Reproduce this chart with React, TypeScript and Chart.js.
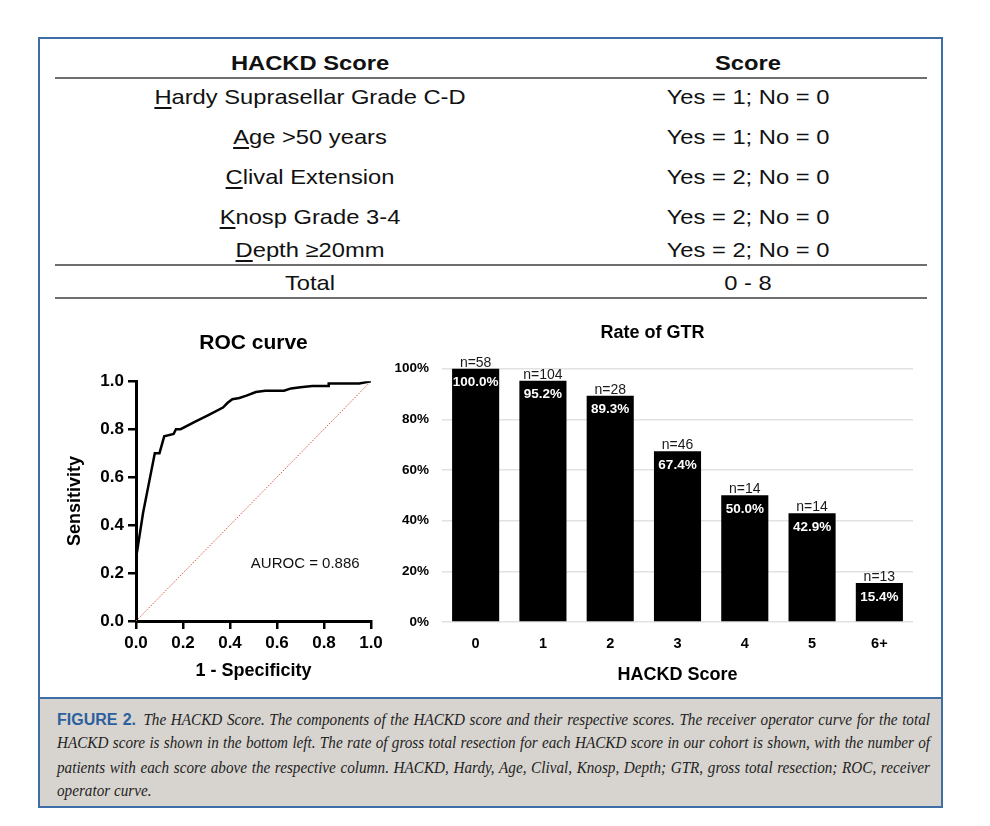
import React, { useEffect, useRef } from 'react';
import { Chart, registerables } from 'chart.js';

Chart.register(...registerables);

const FONT = '"Liberation Sans", Arial, Helvetica, sans-serif';
const SERIF = '"Liberation Serif", "Times New Roman", serif';

// ---- Table data ----
const tableHeaders = ['HACKD Score', 'Score'];
const tableFactors = ['Hardy Suprasellar Grade C-D', 'Age >50 years', 'Clival Extension', 'Knosp Grade 3-4', 'Depth ≥20mm'];
const tableScores = ['Yes = 1; No = 0', 'Yes = 1; No = 0', 'Yes = 2; No = 0', 'Yes = 2; No = 0', 'Yes = 2; No = 0'];
const tableTotal = ['Total', '0 - 8'];

// ---- ROC curve data ----
const rocFpr = [0, 0.03, 0.06, 0.08, 0.10, 0.12, 0.16, 0.17, 0.19, 0.25, 0.31, 0.37, 0.39, 0.41, 0.44, 0.47, 0.51, 0.55, 0.63, 0.66, 0.70, 0.75, 0.82, 0.82, 0.95, 1.0];
const rocTpr = [0.26, 0.45, 0.60, 0.70, 0.70, 0.77, 0.78, 0.80, 0.80, 0.83, 0.86, 0.89, 0.91, 0.925, 0.93, 0.94, 0.955, 0.96, 0.96, 0.97, 0.975, 0.98, 0.98, 0.99, 0.99, 1.0];
const chanceFpr = [0, 1];
const chanceTpr = [0, 1];
const aurocLabel = 'AUROC = 0.886';

// ---- GTR bar data ----
const gtrCategories = ['0', '1', '2', '3', '4', '5', '6+'];
const gtrRates = [100.0, 95.2, 89.3, 67.4, 50.0, 42.9, 15.4];
const gtrCounts = [58, 104, 28, 46, 14, 14, 13];

// ---- Caption ----
const captionLabel = 'FIGURE 2.';
const captionLines = [
  'The HACKD Score. The components of the HACKD score and their respective scores. The receiver operator curve for the total',
  'HACKD score is shown in the bottom left. The rate of gross total resection for each HACKD score in our cohort is shown, with the number of',
  'patients with each score above the respective column. HACKD, Hardy, Age, Clival, Knosp, Depth; GTR, gross total resection; ROC, receiver',
  'operator curve.',
];

const FRAME = '#3f6ea6';

const aurocPlugin = {
  id: 'aurocText',
  afterDatasetsDraw(chart: any) {
    const { ctx, scales } = chart;
    const x = scales.x.getPixelForValue(0.72);
    const y = scales.y.getPixelForValue(0.24);
    ctx.save();
    ctx.font = `15px ${FONT}`;
    ctx.fillStyle = '#111';
    ctx.textAlign = 'center';
    ctx.textBaseline = 'middle';
    ctx.fillText(aurocLabel, x, y);
    ctx.restore();
  },
};

const barLabelPlugin = {
  id: 'barLabels',
  afterDatasetsDraw(chart: any) {
    const { ctx } = chart;
    const meta = chart.getDatasetMeta(0);
    ctx.save();
    ctx.textAlign = 'center';
    meta.data.forEach((bar: any, i: number) => {
      const { x, y } = bar.getProps(['x', 'y'], true);
      ctx.fillStyle = '#1a1a1a';
      ctx.font = `14px ${FONT}`;
      ctx.textBaseline = 'alphabetic';
      ctx.fillText(`n=${gtrCounts[i]}`, x, y - 2);
      ctx.fillStyle = '#ffffff';
      ctx.font = `bold 13.5px ${FONT}`;
      ctx.textBaseline = 'middle';
      ctx.fillText(`${gtrRates[i].toFixed(1)}%`, x, y + 14);
    });
    ctx.restore();
  },
};

function RocChart() {
  const ref = useRef<HTMLCanvasElement>(null);
  useEffect(() => {
    if (!ref.current) return;
    const axisGrid = {
      drawOnChartArea: false,
      drawTicks: true,
      tickLength: 8,
      tickWidth: 2.5,
      tickColor: '#000',
      color: '#000',
      lineWidth: 2.5,
    };
    const axisBorder = { display: true, color: '#000', width: 3 };
    const chart = new Chart(ref.current, {
      type: 'scatter',
      data: {
        datasets: [
          {
            data: rocFpr.map((x, i) => ({ x, y: rocTpr[i] })),
            showLine: true,
            borderColor: '#000',
            borderWidth: 2.5,
            pointRadius: 0,
            tension: 0,
            order: 0,
          },
          {
            data: chanceFpr.map((x, i) => ({ x, y: chanceTpr[i] })),
            showLine: true,
            borderColor: '#d8553c',
            borderWidth: 1,
            borderDash: [1.5, 1.5],
            pointRadius: 0,
            order: 1,
          },
        ],
      },
      options: {
        animation: false,
        responsive: true,
        maintainAspectRatio: false,
        layout: { padding: { left: 0, right: 21, top: 0, bottom: 0 } },
        plugins: {
          legend: { display: false },
          tooltip: { enabled: false },
          title: {
            display: true,
            fullSize: false,
            text: 'ROC curve',
            color: '#000',
            font: { size: 21, weight: 'bold', family: FONT },
            padding: { top: 11, bottom: 25 },
          },
        },
        scales: {
          x: {
            type: 'linear',
            min: 0,
            max: 1,
            afterFit: (s: any) => { s.height = 71; },
            ticks: {
              stepSize: 0.2,
              color: '#000',
              font: { size: 17, weight: 'bold', family: FONT },
              padding: 4,
              maxRotation: 0,
              callback: (v: any) => Number(v).toFixed(1),
            },
            grid: axisGrid,
            border: axisBorder,
            title: {
              display: true,
              text: '1 - Specificity',
              color: '#000',
              font: { size: 18, weight: 'bold', family: FONT },
              padding: { top: 0, bottom: 10 },
            },
          },
          y: {
            type: 'linear',
            min: 0,
            max: 1,
            afterFit: (s: any) => { s.width = 81; },
            ticks: {
              stepSize: 0.2,
              color: '#000',
              font: { size: 17, weight: 'bold', family: FONT },
              padding: 4,
              callback: (v: any) => Number(v).toFixed(1),
            },
            grid: axisGrid,
            border: axisBorder,
            title: {
              display: true,
              text: 'Sensitivity',
              color: '#000',
              font: { size: 18, weight: 'bold', family: FONT },
              padding: { top: 9, bottom: 0 },
            },
          },
        },
      } as any,
      plugins: [aurocPlugin],
    });
    return () => chart.destroy();
  }, []);
  return <canvas ref={ref} />;
}

function GtrChart() {
  const ref = useRef<HTMLCanvasElement>(null);
  useEffect(() => {
    if (!ref.current) return;
    const chart = new Chart(ref.current, {
      type: 'bar',
      data: {
        labels: gtrCategories,
        datasets: [
          {
            data: gtrRates,
            backgroundColor: '#000',
            borderWidth: 0,
            barPercentage: 0.7,
            categoryPercentage: 1,
          },
        ],
      },
      options: {
        animation: false,
        responsive: true,
        maintainAspectRatio: false,
        layout: { padding: { left: 0, right: 27, top: 0, bottom: 0 } },
        plugins: {
          legend: { display: false },
          tooltip: { enabled: false },
          title: {
            display: true,
            text: 'Rate of GTR',
            color: '#000',
            font: { size: 18, weight: 'bold', family: FONT },
            padding: { top: 7, bottom: 25 },
          },
        },
        scales: {
          x: {
            afterFit: (s: any) => { s.height = 73; },
            grid: { display: false },
            border: { display: false },
            ticks: {
              color: '#000',
              font: { size: 14.5, weight: 'bold', family: FONT },
              padding: 5,
            },
            title: {
              display: true,
              text: 'HACKD Score',
              color: '#000',
              font: { size: 18, weight: 'bold', family: FONT },
              padding: { top: 0, bottom: 9 },
            },
          },
          y: {
            min: 0,
            max: 100,
            afterFit: (s: any) => { s.width = 50; },
            grid: { color: '#e2e2e2', lineWidth: 1.5, drawTicks: false },
            border: { display: false },
            ticks: {
              stepSize: 20,
              color: '#000',
              font: { size: 13.5, weight: 'bold', family: FONT },
              padding: 13,
              callback: (v: any) => `${v}%`,
            },
          },
        },
      } as any,
      plugins: [barLabelPlugin],
    });
    return () => chart.destroy();
  }, []);
  return <canvas ref={ref} />;
}

function Cell({ cx, cy, bold, children }: any) {
  return (
    <div
      style={{
        position: 'absolute',
        left: cx,
        top: cy,
        transform: 'translate(-50%, -50%) scaleX(1.13)',
        whiteSpace: 'nowrap',
        fontFamily: FONT,
        fontSize: 21,
        fontWeight: bold ? 'bold' : 'normal',
        color: '#111',
        lineHeight: '24px',
      }}
    >
      {children}
    </div>
  );
}

function Underlined({ text }: { text: string }) {
  return (
    <>
      <span style={{ textDecoration: 'underline', textDecorationThickness: '2px', textUnderlineOffset: '3px' }}>{text[0]}</span>
      {text.slice(1)}
    </>
  );
}

export default function App() {
  const rowY = [89, 129, 169, 209, 242];
  const lineTops = [69, 256, 289];
  const capCenters = [711, 735, 760, 783];
  const capScale = 0.92;
  const capWidth = 873;
  return (
    <div style={{ position: 'relative', width: 974, height: 810 }}>
      <div
        style={{
          position: 'absolute',
          left: 30,
          top: 29,
          width: 905,
          height: 771,
          border: `2px solid ${FRAME}`,
          boxSizing: 'border-box',
          background: '#fff',
        }}
      />
      {lineTops.map((t) => (
        <div key={t} style={{ position: 'absolute', left: 47, top: t, width: 872, height: 2, background: '#6e6e6e' }} />
      ))}
      <Cell cx={302} cy={55} bold>{tableHeaders[0]}</Cell>
      <Cell cx={740} cy={55} bold>{tableHeaders[1]}</Cell>
      {tableFactors.map((f, i) => (
        <Cell key={f} cx={302} cy={rowY[i]}><Underlined text={f} /></Cell>
      ))}
      {tableScores.map((s, i) => (
        <Cell key={i} cx={740} cy={rowY[i]}>{s}</Cell>
      ))}
      <Cell cx={302} cy={275}>{tableTotal[0]}</Cell>
      <Cell cx={740} cy={275}>{tableTotal[1]}</Cell>

      <div style={{ position: 'absolute', left: 47, top: 312, width: 337, height: 372 }}>
        <RocChart />
      </div>
      <div style={{ position: 'absolute', left: 384, top: 307, width: 548, height: 380 }}>
        <GtrChart />
      </div>

      <div
        style={{
          position: 'absolute',
          left: 30,
          top: 689,
          width: 905,
          height: 111,
          border: `2px solid ${FRAME}`,
          boxSizing: 'border-box',
          background: '#d7d4cf',
        }}
      />
      {captionLines.map((line, i) => (
        <div
          key={i}
          style={{
            position: 'absolute',
            left: 49,
            top: capCenters[i] - 12,
            width: capWidth / capScale,
            height: 24,
            lineHeight: '24px',
            whiteSpace: 'nowrap',
            transformOrigin: 'left center',
            transform: `scaleX(${capScale})`,
            textAlign: i < 3 ? 'justify' : 'left',
            textAlignLast: i < 3 ? 'justify' : 'left',
            fontFamily: SERIF,
            fontStyle: 'italic',
            fontSize: 16.5,
            color: '#1e1e1e',
          } as any}
        >
          {i === 0 && (
            <span style={{ fontFamily: FONT, fontStyle: 'normal', fontWeight: 'bold', fontSize: 17.4, color: '#2c5f9e', marginRight: 8 }}>
              {captionLabel}
            </span>
          )}
          {line}
        </div>
      ))}
    </div>
  );
}
